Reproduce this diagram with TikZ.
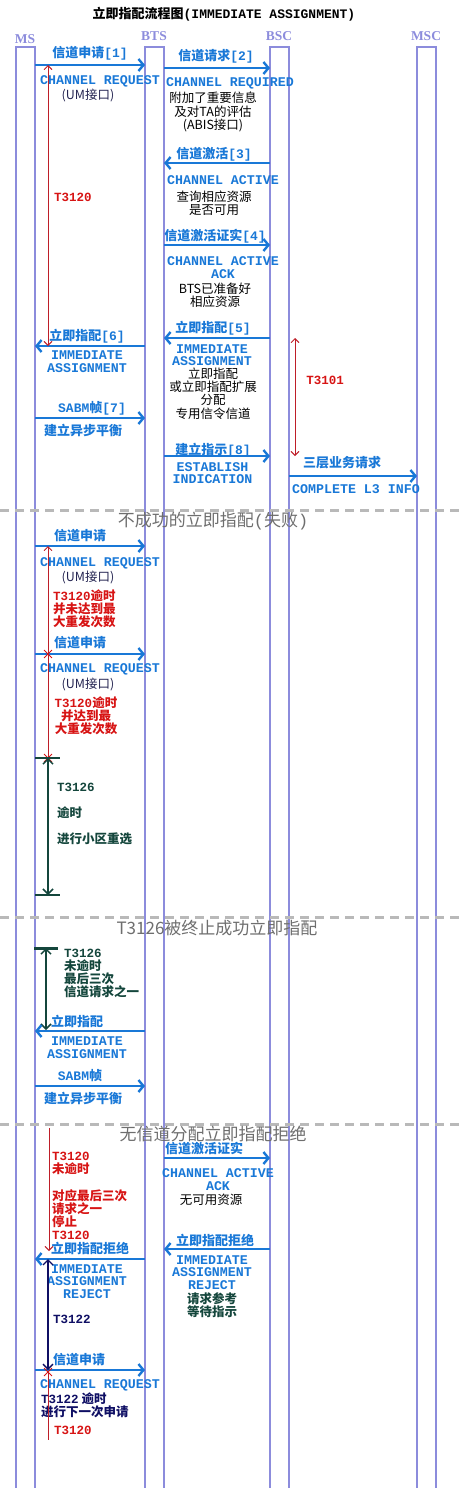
\documentclass[tikz,border=0pt]{standalone}
\usepackage{fontspec}
\setmainfont{Noto Sans CJK SC}
\newfontfamily\engfont{Liberation Mono}
\newfontfamily\hdfont{Liberation Serif}
\usetikzlibrary{arrows.meta,shapes.misc}

\definecolor{lifec}{RGB}{140,140,220}
\definecolor{msgc}{RGB}{25,120,215}
\definecolor{redc}{RGB}{215,20,20}
\definecolor{tmrred}{RGB}{190,30,40}
\definecolor{tealc}{RGB}{20,70,60}
\definecolor{navyc}{RGB}{15,15,100}
\definecolor{sepc}{RGB}{185,185,185}
\definecolor{secc}{RGB}{110,110,110}
\definecolor{umc}{RGB}{35,35,80}
\newcommand{\en}[1]{{\engfont #1}}

\begin{document}
\begin{tikzpicture}[x=1pt,y=-1pt,
  life/.style={draw=lifec,line width=1.8pt},
  sep/.style={draw=sepc,line width=3pt,dash pattern=on 9pt off 6pt},
  msg/.style={draw=msgc,line width=2.4pt,-{Straight Barb[length=5pt,width=12pt]}},
  hd/.style={text=lifec,font=\hdfont\bfseries\fontsize{13.5}{13.5}\selectfont,inner sep=0pt},
  ttl/.style={font=\bfseries\fontsize{13}{13}\selectfont,inner sep=0pt},
  sect/.style={text=secc,font=\fontsize{17}{17}\selectfont,inner sep=0pt},
  lbl/.style={text=msgc,font=\bfseries\fontsize{13}{13}\selectfont,inner sep=0pt},
  eng/.style={text=msgc,font=\engfont\bfseries\fontsize{13.3}{12.6}\selectfont,inner sep=0pt,align=center},
  note/.style={font=\fontsize{12.5}{13.3}\selectfont,inner sep=0pt,align=center},
  um/.style={text=umc,font=\fontsize{12.5}{13}\selectfont,inner sep=0pt},
  rtxt/.style={text=redc,font=\bfseries\fontsize{12.5}{13}\selectfont,inner sep=0pt},
  ttxt/.style={text=tealc,font=\bfseries\fontsize{12.5}{13}\selectfont,inner sep=0pt},
  ntxt/.style={text=navyc,font=\bfseries\fontsize{12.5}{13}\selectfont,inner sep=0pt},
  tmr/.style={draw=tmrred,line width=0.9pt},
  xmk/.style={draw=redc,cross out,minimum size=7pt,inner sep=0pt,line width=0.9pt}]
\useasboundingbox (0,0) rectangle (463,1488);

% lifelines
\draw[life] (16,1495) |- (35,47) -- (35,1495);
\draw[life] (145,1495) |- (164,47) -- (164,1495);
\draw[life] (270,1495) |- (289,47) -- (289,1495);
\draw[life] (417,1495) |- (436,47) -- (436,1495);
\node[ttl] (title) at (224,14) {立即指配流程图\en{(IMMEDIATE ASSIGNMENT)}};
\node[hd] (hms) at (25,39) {MS};
\node[hd] (hbts) at (154,36) {BTS};
\node[hd] (hbsc) at (279,36) {BSC};
\node[hd] (hmsc) at (426,36) {MSC};

% separators
\draw[sep] (0,510) -- (463,510);
\draw[sep] (0,917) -- (463,917);
\draw[sep] (0,1124) -- (463,1124);
\node[sect] (s2) at (213,521) {不成功的立即指配\en{(}失败\en{)}};
\node[sect] (s3) at (217,928) {T3126被终止成功立即指配};
\node[sect] (s4) at (213,1134) {无信道分配立即指配拒绝};

% successful assignment
\coordinate (a1) at (35,65);   \coordinate (b1) at (145,65);
\coordinate (a2) at (164,68);  \coordinate (b2) at (270,68);
\coordinate (a3) at (270,163); \coordinate (b3) at (164,163);
\coordinate (a4) at (164,245); \coordinate (b4) at (270,245);
\coordinate (a5) at (270,338); \coordinate (b5) at (164,338);
\coordinate (a6) at (145,346); \coordinate (b6) at (35,346);
\coordinate (a7) at (35,418);  \coordinate (b7) at (145,418);
\coordinate (a8) at (164,456); \coordinate (b8) at (270,456);
\coordinate (a9) at (289,476); \coordinate (b9) at (417,476);
\draw[msg] (a1) -- (b1);
\draw[msg] (a2) -- (b2);
\draw[msg] (a3) -- (b3);
\draw[msg] (a4) -- (b4);
\draw[msg] (a5) -- (b5);
\draw[msg] (a6) -- (b6);
\draw[msg] (a7) -- (b7);
\draw[msg] (a8) -- (b8);
\draw[msg] (a9) -- (b9);
\node[lbl] (l1) at (90,53) {信道申请\en{[1]}};
\node[eng] (e1) at (100,81) {CHANNEL REQUEST};
\node[um] (u1) at (88,95) {(UM接口)};
\node[lbl] (l2) at (216,56) {信道请求\en{[2]}};
\node[eng] (e2) at (230,83) {CHANNEL REQUIRED};
\node[note] (n2) at (213,112) {附加了重要信息\\及对TA的评估\\(ABIS接口)};
\node[lbl] (l3) at (214,154) {信道激活\en{[3]}};
\node[eng] (e3) at (223,180) {CHANNEL ACTIVE};
\node[note] (n3) at (214,203) {查询相应资源\\是否可用};
\node[lbl] (l4) at (215,236) {信道激活证实\en{[4]}};
\node[eng] (e4) at (223,267.5) {CHANNEL ACTIVE\\ACK};
\node[note] (n4) at (215,295.5) {BTS已准备好\\相应资源};
\node[lbl] (l5) at (213,328) {立即指配\en{[5]}};
\node[eng] (e5) at (212,355) {IMMEDIATE\\ASSIGNMENT};
\node[note] (n5) at (213,393.5) {立即指配\\或立即指配扩展\\分配\\专用信令信道};
\node[lbl] (l6) at (87,336) {立即指配\en{[6]}};
\node[eng] (e6) at (87,361.5) {IMMEDIATE\\ASSIGNMENT};
\node[lbl] (l7) at (92,408) {\en{SABM}帧\en{[7]}};
\node[lbl] (n7) at (83,430) {建立异步平衡};
\node[lbl] (l8) at (213,450) {建立指示\en{[8]}};
\node[eng] (e8) at (212.5,473) {ESTABLISH\\INDICATION};
\node[lbl] (l9) at (342,463) {三层业务请求};
\node[eng] (e9) at (356,489) {COMPLETE L3 INFO};
% timers
\coordinate (t1a) at (48,65);   \coordinate (t1b) at (48,346);
\coordinate (t2a) at (295,338); \coordinate (t2b) at (295,456);
\draw[tmr,{Straight Barb[length=4pt,width=8pt]}-{Straight Barb[length=4pt,width=8pt]}] (t1a) -- (t1b);
\draw[tmr,{Straight Barb[length=4pt,width=8pt]}-{Straight Barb[length=4pt,width=8pt]}] (t2a) -- (t2b);
\node[rtxt] (r1) at (73,197) {\en{T3120}};
\node[rtxt] (r2) at (325,380) {\en{T3101}};

% unsuccessful assignment
\coordinate (a10) at (35,546); \coordinate (b10) at (145,546);
\coordinate (a11) at (35,654); \coordinate (b11) at (145,654);
\draw[msg] (a10) -- (b10);
\draw[msg] (a11) -- (b11);
\node[lbl] (l10) at (80,536) {信道申请};
\node[eng] (e10) at (100,563) {CHANNEL REQUEST};
\node[um] (u10) at (88,577) {(UM接口)};
\node[lbl] (l11) at (80,643) {信道申请};
\node[eng] (e11) at (100,669) {CHANNEL REQUEST};
\node[um] (u11) at (88,684) {(UM接口)};
\node[xmk] (x1) at (48,654) {};
\node[xmk] (x2) at (48,758) {};
\coordinate (t3a) at (48,546);
\draw[tmr,{Straight Barb[length=4pt,width=8pt]}-] (t3a) -- (x1.center);
\draw[tmr] (x1.center) -- (x2.center);
\node[rtxt,anchor=west,align=left] (r3) at (53,609) {\en{T3120}逾时\\并未达到最\\大重发次数};
\node[rtxt,align=center] (r4) at (86,715.5) {\en{T3120}逾时\\并达到最\\大重发次数};
\coordinate (t4a) at (48,758); \coordinate (t4b) at (48,895);
\draw[draw=tealc,line width=2pt] (35,758) -- (60,758);
\draw[draw=tealc,line width=2pt] (35,895) -- (60,895);
\draw[draw=tealc,line width=1.5pt,{Straight Barb[length=5pt,width=10pt]}-{Straight Barb[length=5pt,width=10pt]}] (t4a) -- (t4b);
\node[ttxt,anchor=west] (g1) at (57,787) {\en{T3126}};
\node[ttxt,anchor=west] (g2) at (57,813) {逾时};
\node[ttxt,anchor=west] (g3) at (57,839) {进行小区重选};

% T3126 stopped
\coordinate (t5a) at (46,948); \coordinate (t5b) at (46,1030);
\draw[draw=tealc,line width=3pt] (34,948) -- (58,948);
\draw[draw=tealc,line width=1.5pt,{Straight Barb[length=5pt,width=10pt]}-{Straight Barb[length=5pt,width=10pt]}] (t5a) -- (t5b);
\node[ttxt,anchor=west,align=left] (g4) at (64,973.5) {\en{T3126}\\未逾时\\最后三次\\信道请求之一};
\coordinate (a12) at (145,1031); \coordinate (b12) at (35,1031);
\coordinate (a13) at (35,1086);  \coordinate (b13) at (145,1086);
\draw[msg] (a12) -- (b12);
\draw[msg] (a13) -- (b13);
\node[lbl] (l12) at (77,1021) {立即指配};
\node[eng] (e12) at (87,1047.5) {IMMEDIATE\\ASSIGNMENT};
\node[lbl] (l13) at (80,1076) {\en{SABM}帧};
\node[lbl] (n13) at (83,1098) {建立异步平衡};

% immediate assignment reject
\coordinate (t6a) at (49,1128); \coordinate (t6b) at (49,1251);
\draw[tmr,-{Straight Barb[length=4pt,width=8pt]}] (t6a) -- (t6b);
\node[rtxt,anchor=west,align=left] (r6) at (52,1163.5) {\en{T3120}\\未逾时};
\node[rtxt,anchor=west,align=left] (r7) at (52,1214.5) {对应最后三次\\请求之一\\停止\\\en{T3120}};
\coordinate (a14) at (164,1158); \coordinate (b14) at (270,1158);
\coordinate (a15) at (270,1249); \coordinate (b15) at (164,1249);
\coordinate (a16) at (145,1259); \coordinate (b16) at (35,1259);
\coordinate (a17) at (35,1370);  \coordinate (b17) at (145,1370);
\draw[msg] (a14) -- (b14);
\draw[msg] (a15) -- (b15);
\draw[msg] (a16) -- (b16);
\draw[msg] (a17) -- (b17);
\node[lbl] (l14) at (204,1148.5) {信道激活证实};
\node[eng] (e14) at (218,1179.5) {CHANNEL ACTIVE\\ACK};
\node[note] (n14) at (211,1200) {无可用资源};
\node[lbl] (l15) at (215,1240) {立即指配拒绝};
\node[eng] (e15) at (212,1272.5) {IMMEDIATE\\ASSIGNMENT\\REJECT};
\node[ttxt,align=center] (n15) at (212,1305.5) {请求参考\\等待指示};
\node[lbl] (l16) at (90,1248) {立即指配拒绝};
\node[eng] (e16) at (87,1281.5) {IMMEDIATE\\ASSIGNMENT\\REJECT};
\coordinate (t7a) at (48,1259); \coordinate (t7b) at (48,1370);
\draw[draw=navyc,line width=1.3pt,{Straight Barb[length=5pt,width=10pt]}-{Straight Barb[length=5pt,width=10pt]}] (t7a) -- (t7b);
\node[ntxt] (v1) at (72,1319) {\en{T3122}};
\node[lbl] (l17) at (79,1360) {信道申请};
\node[eng] (e17) at (100,1385) {CHANNEL REQUEST};
\node[ntxt,anchor=west,align=left] (v2) at (41,1405.5) {\en{T3122} 逾时\\进行下一次申请};
\node[xmk] (x3) at (48,1372) {};
\coordinate (t8b) at (48,1440);
\draw[tmr] (x3.center) -- (t8b);
\node[rtxt] (r8) at (73,1430) {\en{T3120}};
\end{tikzpicture}
\end{document}
